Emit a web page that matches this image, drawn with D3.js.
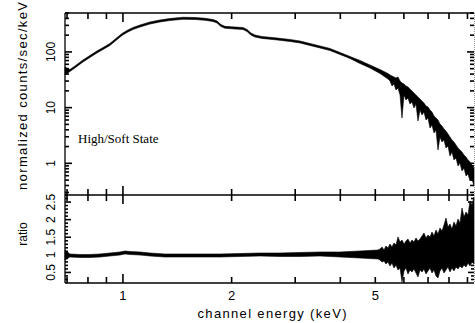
<!DOCTYPE html>
<html>
<head>
<meta charset="utf-8">
<script src="https://cdn.jsdelivr.net/npm/d3@7"></script>
<style>
  body { margin: 0; background: #fff; }
  svg { display: block; }
</style>
</head>
<body>
<svg id="chart" width="475" height="323"></svg>
<script>
// Spectrum: channel energy (keV) with lower/upper envelope of counts/sec/keV
const specEnergy = [0.691,0.713,0.736,0.775,0.810,0.847,0.886,0.920,0.956,0.994,1.026,1.066,1.115,1.188,1.266,1.349,1.466,1.583,1.687,1.776,1.822,1.868,1.917,2.043,2.150,2.206,2.262,2.321,2.427,2.637,2.901,3.093,3.296,3.513,3.744,3.992,4.255,4.534,4.833,5.151,5.422,
  5.491,5.562,5.633,5.705,5.779,5.853,5.928,6.004,6.081,6.159,6.238,6.318,6.399,6.481,6.564,6.649,6.734,6.821,6.908,6.997,7.087,7.178,7.270,7.363,7.458,7.553,7.650,7.749,7.848,7.949,8.051,8.154,8.259,8.365,8.473,8.581,8.692,8.803,8.916,9.031,9.147,9.264,9.383];
const countsHi = [53.7,48.3,55.9,71.7,86.3,104,123,142,174.5,214.5,243,274.5,304,345,374,398,419,415,402,382,359,310,288,280,274.5,253,219,201,189,179.5,167.5,157,142,128,115.5,97.7,82.8,70.3,58.3,48.3,41,
  38.6,37.0,35.5,34.0,35.5,30.1,27.7,26.6,24.5,23.5,21.6,19.9,18.3,16.9,15.5,14.3,13.1,12.1,10.7,10.3,9.07,8.35,7.08,6.52,6.00,5.09,4.68,4.14,3.81,3.36,2.97,2.62,2.42,2.13,1.89,1.74,1.60,1.41,1.30,1.15,1.06,0.93,0.825];
const countsLo = [38.6,44.5,51.5,66.0,79.4,95.7,113,130.5,160.5,197,223.5,253,280,317,345,366,385,382,370,352,331,286,266,258,253,233,201,185.5,174.5,165.5,154,145,130.5,118,106,90,76.3,62,51.5,41,32.6,
  30.1,24.5,26.6,20.7,22.5,16.9,6.52,16.9,13.7,14.9,11.6,12.6,9.85,11.6,5.76,9.07,7.38,8.35,6.00,6.52,4.31,4.88,3.51,3.97,1.74,2.97,2.42,2.62,1.89,2.05,1.35,1.60,1.15,1.25,0.896,1.015,0.729,0.825,0.593,0.644,0.482,0.524,0.392];

// Data / model ratio envelope
const ratioEnergy = [0.691,0.713,0.760,0.810,0.864,0.920,0.981,1.013,1.046,1.115,1.188,1.307,1.438,1.634,1.857,2.109,2.396,2.722,3.093,3.513,3.992,4.534,5.087,
  5.151,5.218,5.285,5.353,5.422,5.491,5.562,5.633,5.705,5.779,5.853,5.928,6.004,6.081,6.159,6.238,6.318,6.399,6.481,6.564,6.649,6.734,6.821,6.908,6.997,7.087,7.178,7.270,7.363,7.458,7.553,7.650,7.749,7.848,7.949,8.051,8.154,8.259,8.365,8.473,8.581,8.692,8.803,8.916,9.031,9.147,9.264,9.383];
const ratioHi = [1.138,1.024,1.010,1.010,1.024,1.052,1.081,1.109,1.095,1.081,1.052,1.024,1.024,1.024,1.024,1.038,1.052,1.052,1.067,1.081,1.081,1.109,1.138,
  1.166,1.223,1.138,1.251,1.194,1.308,1.223,1.337,1.280,1.507,1.365,1.422,1.308,1.393,1.450,1.337,1.422,1.365,1.479,1.393,1.450,1.535,1.621,1.479,1.564,1.507,1.649,1.535,1.706,1.592,1.763,1.677,1.848,2.047,1.791,1.876,1.734,1.933,1.819,2.018,1.905,2.331,2.075,2.217,2.132,2.530,2.416,2.643];
const ratioLo = [0.853,0.939,0.924,0.924,0.939,0.967,0.995,1.024,1.010,0.995,0.967,0.939,0.939,0.939,0.939,0.953,0.967,0.953,0.953,0.967,0.939,0.910,0.882,
  0.853,0.797,0.825,0.740,0.797,0.683,0.768,0.627,0.712,0.570,0.627,0.229,0.541,0.627,0.456,0.570,0.513,0.598,0.484,0.371,0.570,0.513,0.598,0.456,0.541,0.627,0.484,0.570,0.399,0.342,0.541,0.627,0.484,0.570,0.655,0.513,0.627,0.541,0.655,0.598,0.683,0.627,0.712,0.655,0.768,0.683,0.797,0.740];

// Tick labels
const xTickLabels = [1, 2, 5];
const countTickLabels = [1, 10, 100];
const ratioTickLabels = [0.5, 1, 1.5, 2, 2.5];
const stateLabel = "High/Soft State";

// Layout
const L = 65, R = 474, T = 13, M = 195, B = 283;
const svg = d3.select("#chart");

const x = d3.scaleLog().domain([0.691, 9.383]).range([L, R]);
const yC = d3.scaleLog().domain([0.27, 500]).range([M, T]);
const yR = d3.scaleLinear().domain([0.2, 2.7]).range([B, M]);

// Spectrum band
const spec = specEnergy.map((e, i) => ({ e, lo: countsLo[i], hi: countsHi[i] }));
svg.append("path")
  .datum(spec)
  .attr("d", d3.area().x(d => x(d.e)).y0(d => yC(d.lo)).y1(d => yC(d.hi)))
  .attr("fill", "#000").attr("stroke", "#000").attr("stroke-width", 0.6);

// Ratio band
const rat = ratioEnergy.map((e, i) => ({ e, lo: ratioLo[i], hi: ratioHi[i] }));
svg.append("path")
  .datum(rat)
  .attr("d", d3.area().x(d => x(d.e)).y0(d => yR(d.lo)).y1(d => yR(d.hi)))
  .attr("fill", "#000").attr("stroke", "#000").attr("stroke-width", 0.6);

// Frames
const frame = svg.append("g").attr("fill", "none").attr("stroke", "#000").attr("stroke-width", 1.3);
frame.append("line").attr("x1", L).attr("x2", R).attr("y1", T).attr("y2", T);
frame.append("line").attr("x1", L).attr("x2", R).attr("y1", M).attr("y2", M);
frame.append("line").attr("x1", L).attr("x2", R).attr("y1", B).attr("y2", B);
frame.append("line").attr("x1", L).attr("x2", L).attr("y1", T).attr("y2", B);
svg.append("line").attr("x1", R + 0.5).attr("x2", R + 0.5).attr("y1", T).attr("y2", B)
  .attr("stroke", "#999").attr("stroke-width", 1).attr("stroke-dasharray", "1,1");

// Tick values
const xMajor = [1];
const xMinor = [0.7, 0.8, 0.9, 2, 3, 4, 5, 6, 7, 8, 9];
const cMajor = [1, 10, 100];
const cMinor = [];
[0.1, 1, 10, 100].forEach(dec => {
  for (let k = 2; k <= 9; k++) {
    const v = k * dec;
    if (v >= 0.27 && v <= 500) cMinor.push(v);
  }
});
const rMajor = [0.5, 1, 1.5, 2, 2.5];
const rMinor = [];
for (let k = 3; k <= 27; k++) if (k % 5 !== 0) rMinor.push(k / 10);

// Tick segments computed from the scales, drawn last so nothing covers them
const segs = [];
function vTicks(values, y0, len) {
  values.forEach(v => segs.push([x(v), y0, x(v), y0 + len]));
}
function hTicks(scale, values, x0, len) {
  values.forEach(v => segs.push([x0, scale(v), x0 + len, scale(v)]));
}
// x ticks: top of upper panel (down), shared line (both ways), bottom (up)
vTicks(xMajor, T, 9);  vTicks(xMinor, T, 6);
vTicks(xMajor, M, -9); vTicks(xMinor, M, -6);
vTicks(xMajor, M, 9);  vTicks(xMinor, M, 6);
vTicks(xMajor, B, -9); vTicks(xMinor, B, -6);
// y ticks, both panels, both sides
hTicks(yC, cMajor, L, 7);  hTicks(yC, cMinor, L, 4);
hTicks(yC, cMajor, R, -7); hTicks(yC, cMinor, R, -4);
hTicks(yR, rMajor, L, 6);  hTicks(yR, rMinor, L, 3);
hTicks(yR, rMajor, R, -6); hTicks(yR, rMinor, R, -3);

// Labels
const sans = "'Liberation Sans', Arial, sans-serif";

svg.append("g").selectAll("text").data(xTickLabels).join("text")
  .attr("x", d => x(d)).attr("y", 300)
  .attr("text-anchor", "middle")
  .attr("font-family", sans).attr("font-size", 13)
  .text(d => d);

svg.append("g").selectAll("text").data(countTickLabels).join("text")
  .attr("transform", d => `translate(55,${yC(d)}) rotate(-90)`)
  .attr("text-anchor", "middle")
  .attr("font-family", sans).attr("font-size", 12)
  .text(d => d);

svg.append("g").selectAll("text").data(ratioTickLabels).join("text")
  .attr("transform", d => `translate(55,${yR(d)}) rotate(-90)`)
  .attr("text-anchor", "middle")
  .attr("font-family", sans).attr("font-size", 12)
  .text(d => d);

svg.append("text")
  .attr("x", 272).attr("y", 318)
  .attr("text-anchor", "middle")
  .attr("font-family", sans).attr("font-size", 13)
  .attr("textLength", 149).attr("lengthAdjust", "spacing")
  .text("channel energy (keV)");

svg.append("text")
  .attr("transform", "translate(27,96) rotate(-90)")
  .attr("text-anchor", "middle")
  .attr("font-family", sans).attr("font-size", 13)
  .attr("textLength", 188).attr("lengthAdjust", "spacing")
  .text("normalized counts/sec/keV");

svg.append("text")
  .attr("transform", "translate(27,234) rotate(-90)")
  .attr("text-anchor", "middle")
  .attr("font-family", sans).attr("font-size", 12)
  .text("ratio");

svg.append("text")
  .attr("x", 78).attr("y", 143)
  .attr("font-family", "'Liberation Serif', 'Times New Roman', serif")
  .attr("font-size", 13)
  .text(stateLabel);

svg.append("g").attr("class", "tickmarks")
  .selectAll("line").data(segs).join("line")
  .attr("x1", d => d[0]).attr("y1", d => d[1])
  .attr("x2", d => d[2]).attr("y2", d => d[3])
  .attr("stroke", "#000").attr("stroke-width", 1.6)
  .attr("stroke-linecap", "butt");
</script>
</body>
</html>
